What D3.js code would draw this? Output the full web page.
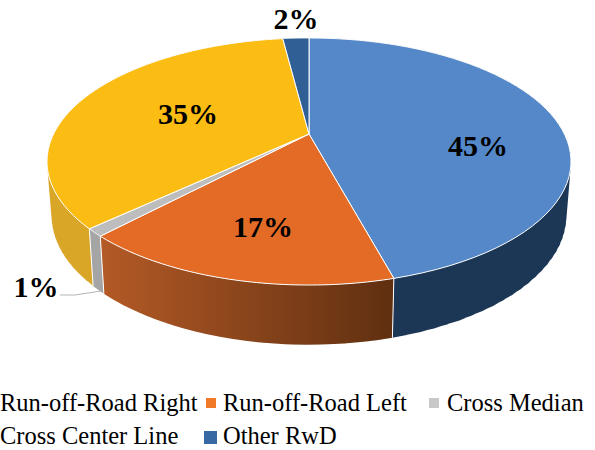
<!DOCTYPE html>
<html>
<head>
<meta charset="utf-8">
<script src="https://cdn.jsdelivr.net/npm/d3@7"></script>
<style>
	html, body { margin: 0; padding: 0; background: #fff; }
	svg { display: block; }
	text { font-family: 'Liberation Serif', serif; fill: #000; }
	.pct { font-weight: bold; font-size: 30px; text-anchor: middle; }
	.legend-label { font-size: 24.5px; }
</style>
</head>
<body>
<svg id="chart" width="595" height="450"></svg>
<script>
const categories = [ 'Run-off-Road Right', 'Run-off-Road Left', 'Cross Median', 'Cross Center Line', 'Other RwD' ];
// slice shares, the printed labels are rounded
const shares = [ 45.8, 16.2, 1, 35, 2 ];
const pctLabels = [ '45%', '17%', '1%', '35%', '2%' ];

const topColors = [ '#5488c9', '#e36b26', '#bdbdbd', '#fbbc13', '#2f5f95' ];
const wallColors = [ '#1c3756', 'url(#orangeWall)', '#a5a5a5', '#d9a628', '#1c3756' ];
// first marker of each row is cut off in the source
const legendColors = [ null, '#f07a28', '#c8c8c8', null, '#3668a4' ];

const svg = d3.select( '#chart' );

const grad = svg.append( 'defs' ).append( 'linearGradient' )
	.attr( 'id', 'orangeWall' )
	.attr( 'gradientUnits', 'userSpaceOnUse' )
	.attr( 'x1', 100 ).attr( 'x2', 395 ).attr( 'y1', 0 ).attr( 'y2', 0 );
grad.append( 'stop' ).attr( 'offset', 0 ).attr( 'stop-color', '#b45a26' );
grad.append( 'stop' ).attr( 'offset', 1 ).attr( 'stop-color', '#5f2f10' );

// perspective projection of a flat disc
const tilt = 0.2227;
const topDisc = { cx: 309, cy: 134, rx: 255.4, ry: 117.4 };
const baseDisc = { cx: 309, cy: 187, rx: 251, ry: 122.6 };

function project( disc, angle ) {
	const u = Math.sin( angle );
	const v = -Math.cos( angle );
	const w = 1 - tilt * v;
	return [ disc.cx + disc.rx * u / w, disc.cy + disc.ry * v / w ];
}

function arcPoints( disc, a0, a1 ) {
	return d3.range( 0, 61 ).map( ( i ) => project( disc, a0 + ( a1 - a0 ) * i / 60 ) );
}

const slices = d3.pie().sort( null ).value( ( d ) => d )( shares );
const line = d3.line();

// overlapping quads, all wound the same way, so the outline closes over
// the tangent between the two discs
function wallPath( d ) {
	const upper = arcPoints( topDisc, d.startAngle, d.endAngle );
	const lower = arcPoints( baseDisc, d.startAngle, d.endAngle );
	return d3.range( 0, 60 ).map( ( i ) => {
		const j = Math.min( i + 3, 60 );
		const quad = [ upper[ i ], upper[ j ], lower[ j ], lower[ i ] ];
		return line( d3.polygonArea( quad ) < 0 ? quad.reverse() : quad ) + 'Z';
	} ).join( '' );
}

svg.append( 'g' ).selectAll( 'path' )
	.data( slices )
	.enter()
	.append( 'path' )
	.attr( 'fill', ( d, i ) => wallColors[ i ] )
	.attr( 'd', wallPath );

// white seams between the walls, front edges only
svg.append( 'g' ).selectAll( 'line' )
	.data( slices.filter( ( d ) => Math.cos( d.endAngle ) < -0.3 ) )
	.enter()
	.append( 'line' )
	.attr( 'stroke', '#fff' )
	.attr( 'stroke-width', 1 )
	.attr( 'x1', ( d ) => project( topDisc, d.endAngle )[ 0 ] )
	.attr( 'y1', ( d ) => project( topDisc, d.endAngle )[ 1 ] )
	.attr( 'x2', ( d ) => project( baseDisc, d.endAngle )[ 0 ] )
	.attr( 'y2', ( d ) => project( baseDisc, d.endAngle )[ 1 ] );

svg.append( 'g' ).selectAll( 'path' )
	.data( slices )
	.enter()
	.append( 'path' )
	.attr( 'fill', ( d, i ) => topColors[ i ] )
	.attr( 'stroke', '#fff' )
	.attr( 'stroke-width', 1 )
	.attr( 'stroke-linejoin', 'round' )
	.attr( 'd', ( d ) => line( [ [ topDisc.cx, topDisc.cy ] ]
		.concat( arcPoints( topDisc, d.startAngle, d.endAngle ) ) ) + 'Z' );

// leader line for the 1% label
svg.append( 'path' )
	.attr( 'fill', 'none' )
	.attr( 'stroke', '#b5b5b5' )
	.attr( 'stroke-width', 1 )
	.attr( 'd', line( [ [ 60, 295 ], [ 75, 295 ], [ 101, 291 ] ] ) );

// label spots picked by eye
const pctX = [ 478, 263, 36, 188, 296 ];
const pctY = [ 156, 237, 297, 124, 29 ];

svg.append( 'g' ).selectAll( 'text' )
	.data( pctLabels )
	.enter()
	.append( 'text' )
	.attr( 'class', 'pct' )
	.attr( 'x', ( d, i ) => pctX[ i ] )
	.attr( 'y', ( d, i ) => pctY[ i ] )
	.text( ( d ) => d );

const legendX = [ 0, 223, 447, 0, 223 ];
const legendY = [ 411, 411, 411, 444, 444 ];
const markerX = [ 0, 206, 429, 0, 204 ];
const markerY = [ 0, 398, 398, 0, 431 ];
const markerW = [ 0, 10, 10, 0, 13 ];

const legend = svg.append( 'g' );

legend.selectAll( 'text' )
	.data( categories )
	.enter()
	.append( 'text' )
	.attr( 'class', 'legend-label' )
	.attr( 'x', ( d, i ) => legendX[ i ] )
	.attr( 'y', ( d, i ) => legendY[ i ] )
	.text( ( d ) => d );

legend.selectAll( 'rect' )
	.data( legendColors )
	.enter()
	.append( 'rect' )
	.attr( 'x', ( d, i ) => markerX[ i ] )
	.attr( 'y', ( d, i ) => markerY[ i ] )
	.attr( 'width', ( d, i ) => markerW[ i ] )
	.attr( 'height', ( d, i ) => markerW[ i ] )
	.attr( 'fill', ( d ) => d || 'none' );
</script>
</body>
</html>
